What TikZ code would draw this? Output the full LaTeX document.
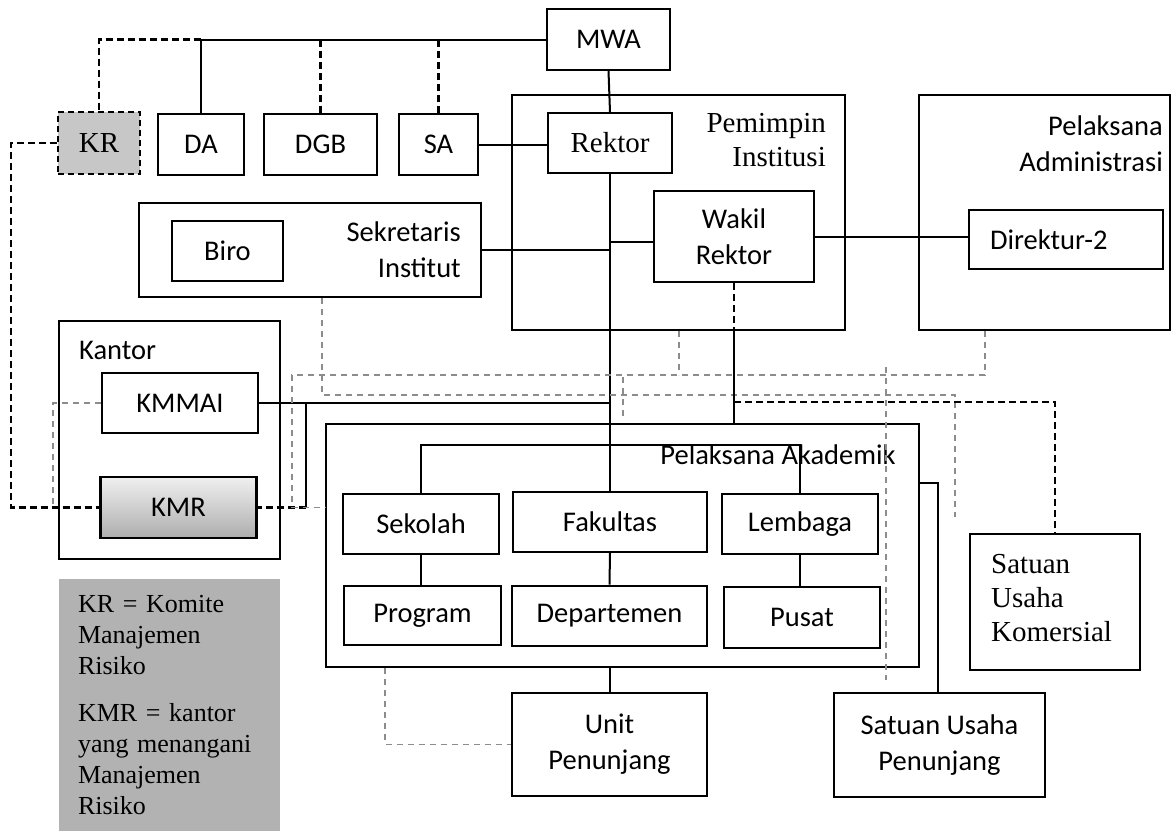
\documentclass[tikz,border=0pt]{standalone}
\usepackage{fontspec}
\setmainfont{Carlito}
\newfontfamily\tnr{Liberation Serif}
\newcommand\sfz{\fontsize{28.5}{36}\selectfont}
\newcommand\srz{\tnr\fontsize{29}{34}\selectfont}
\newcommand\lgz{\tnr\fontsize{26}{31}\selectfont}
\begin{document}
\begin{tikzpicture}[x=1pt,y=-1pt,
  bx/.style={draw, line width=2pt, inner sep=0pt, align=center, font=\sfz},
  cont/.style={draw, line width=2pt, inner sep=0pt},
  ln/.style={line width=2pt},
  bd/.style={line width=2.4pt, dash pattern=on 7pt off 4pt},
  gd/.style={line width=1.5pt, black!45, dash pattern=on 6pt off 5pt},
  lbl/.style={inner sep=0pt, font=\sfz},
]
\useasboundingbox (0,0) rectangle (1176,831);

% containers
\node[cont, minimum width=333, minimum height=235] (Pem) at (678.5,212.5) {};
\node[cont, minimum width=251, minimum height=235] (PelAdm) at (1044.5,212.5) {};
\node[cont, minimum width=342, minimum height=94] (Sek) at (310,250) {};
\node[cont, minimum width=221, minimum height=238] (Kan) at (169.5,440) {};
\node[cont, minimum width=593, minimum height=243] (PelAk) at (622.5,545.5) {};

% container labels
\node[lbl, font=\srz, align=right, anchor=east] (PemL) at (826,140.5) {Pemimpin\\Institusi};
\node[lbl, align=right, anchor=east] (PelAdmL) at (1163,143.5) {Pelaksana\\Administrasi};
\node[lbl, align=right, anchor=east] (SekL) at (461,250) {Sekretaris\\Institut};
\node[lbl, anchor=west] (KanL) at (79,350) {Kantor};
\node[lbl] (PelAkL) at (778,455) {Pelaksana Akademik};

% boxes
\node[bx, minimum width=123, minimum height=61] (MWA) at (608.5,39.5) {MWA};
\node[bx, font=\srz, minimum width=124, minimum height=60] (Rek) at (610,143) {Rektor};
\node[bx, minimum width=160, minimum height=91] (Wak) at (734,236.5) {Wakil\\Rektor};
\node[bx, minimum width=194, minimum height=59, text width=152, align=left, inner xsep=21] (Dir) at (1066,239.5) {Direktur-2};
\node[bx, font=\srz, minimum width=82, minimum height=62, fill=black!22, line width=2.2pt, dash pattern=on 6pt off 4pt] (KR) at (99,143) {KR};
\node[bx, minimum width=86, minimum height=61] (DA) at (201,144.5) {DA};
\node[bx, minimum width=113, minimum height=61] (DGB) at (320.5,144.5) {DGB};
\node[bx, minimum width=79, minimum height=61] (SA) at (438.5,144.5) {SA};
\node[bx, minimum width=111, minimum height=60] (Biro) at (227.5,251) {Biro};
\node[bx, minimum width=156, minimum height=60] (KMMAI) at (180,403) {KMMAI};
\node[bx, minimum width=156, minimum height=61, line width=2.6pt, top color=black!6, bottom color=black!32] (KMR) at (178.5,507.5) {KMR};
\node[bx, minimum width=156, minimum height=60] (Sekolah) at (421,524) {Sekolah};
\node[bx, minimum width=194, minimum height=60] (Fak) at (610,522) {Fakultas};
\node[bx, minimum width=156, minimum height=60] (Lem) at (800,524) {Lembaga};
\node[bx, minimum width=157, minimum height=59] (Prog) at (422.5,615.5) {Program};
\node[bx, minimum width=195, minimum height=60, line width=2.8pt] (Dep) at (609.5,616) {Departemen};
\node[bx, minimum width=156, minimum height=61] (Pus) at (802,617.5) {Pusat};
\node[bx, minimum width=195, minimum height=103] (Unit) at (609.5,744.5) {Unit\\Penunjang};
\node[bx, minimum width=211, minimum height=104] (SUP) at (939.5,745) {Satuan Usaha\\Penunjang};
\node[bx, minimum width=170, minimum height=136] (SUK) at (1055,602) {};
\node[lbl, font=\srz, align=left, anchor=north west] (SUKL) at (991,554) {Satuan\\Usaha\\Komersial};

% legend
\node[fill=black!30, minimum width=221, minimum height=252, inner sep=0pt, text width=183, align=left, font=\lgz] (Leg) at (169.5,705) {KR = Komite\\Manajemen\\Risiko\\[16pt]KMR = kantor\\yang menangani\\Manajemen\\Risiko};

% coordinates
\coordinate (kj) at (306,403);
\coordinate (krl) at (11,143);
\coordinate (kml) at (53,403);
\coordinate (g1) at (322,395);
\coordinate (g2) at (955,395);
\coordinate (g2e) at (955,517);
\coordinate (h1) at (292,375);
\coordinate (h2) at (985,375);
\coordinate (h3) at (679,375);
\coordinate (v1a) at (623,377);
\coordinate (v1b) at (623,420);
\coordinate (v2a) at (886,367);
\coordinate (v2b) at (886,680);
\coordinate (bw) at (734,402);
\coordinate (bus) at (0,445);
\coordinate (ug) at (385,0);
\coordinate (sp) at (938,483);

% top tree
\draw[ln] (MWA.west) -- (MWA.west -| DA.north) -- (DA.north);
\draw[bd] (MWA.west -| DA.north) -- (MWA.west -| KR.north) -- (KR.north);
\draw[bd] (DGB.north) -- (DGB.north |- MWA.west);
\draw[bd] (SA.north) -- (SA.north |- MWA.west);
\draw[ln] (MWA.south) -- (Rek.north);
\draw[ln] (SA.east) -- (SA.east -| Rek.west);
\draw[ln] (Rek.south) -- (Fak.north);
\draw[ln] (Sek.east) -- (Sek.east -| Rek.south);
\draw[ln] ([yshift=-5.5pt]Wak.west) -- ([yshift=-5.5pt]Wak.west -| Rek.south);
\draw[ln] (Wak.east) -- (Wak.east -| Dir.west);

% Kantor links
\draw[ln] (KMMAI.east) -- (KMMAI.east -| Rek.south);
\draw[ln] (kj) -- (kj |- KMR.east);
\draw[bd] (kj |- KMR.east) -- (KMR.east);
\draw[bd] (KR.west) -- (krl) -- (krl |- KMR.west) -- (KMR.west);
\draw[gd] (KMMAI.west) -- (kml) -- (kml |- KMR.west);

% grey dashed links
\draw[gd] (g1 |- Sek.south) -- (g1) -- (g2) -- (g2e);
\draw[gd] (h3 |- Pem.south) -- (h3);
\draw[gd] (h2 |- PelAdm.south) -- (h2) -- (h1) -- (h1 |- KMR.east) -- (PelAk.west |- KMR.east);
\draw[gd] (v1a) -- (v1b);
\draw[gd] (v2a) -- (v2b);

% Wakil links
\draw[bd] (Wak.south) -- (Wak.south |- Pem.south);
\draw[ln] (Wak.south |- Pem.south) -- (Wak.south |- PelAk.north);
\draw[bd] (bw) -- (bw -| SUK.north) -- (SUK.north);

% academic tree
\draw[ln] (Sekolah.north) -- (Sekolah.north |- bus) -- (Lem.north |- bus) -- (Lem.north);
\draw[ln] (Sekolah.south) -- (Sekolah.south |- Prog.north);
\draw[ln] (Fak.south) -- (Dep.north);
\draw[ln] (Lem.south) -- (Lem.south |- Pus.north);
\draw[ln] (Unit.north |- PelAk.south) -- (Unit.north);
\draw[gd] (ug |- PelAk.south) -- (ug |- Unit.west) -- (Unit.west);
\draw[ln] (PelAk.east |- sp) -- (sp) -- (sp |- SUP.north);
\end{tikzpicture}
\end{document}
